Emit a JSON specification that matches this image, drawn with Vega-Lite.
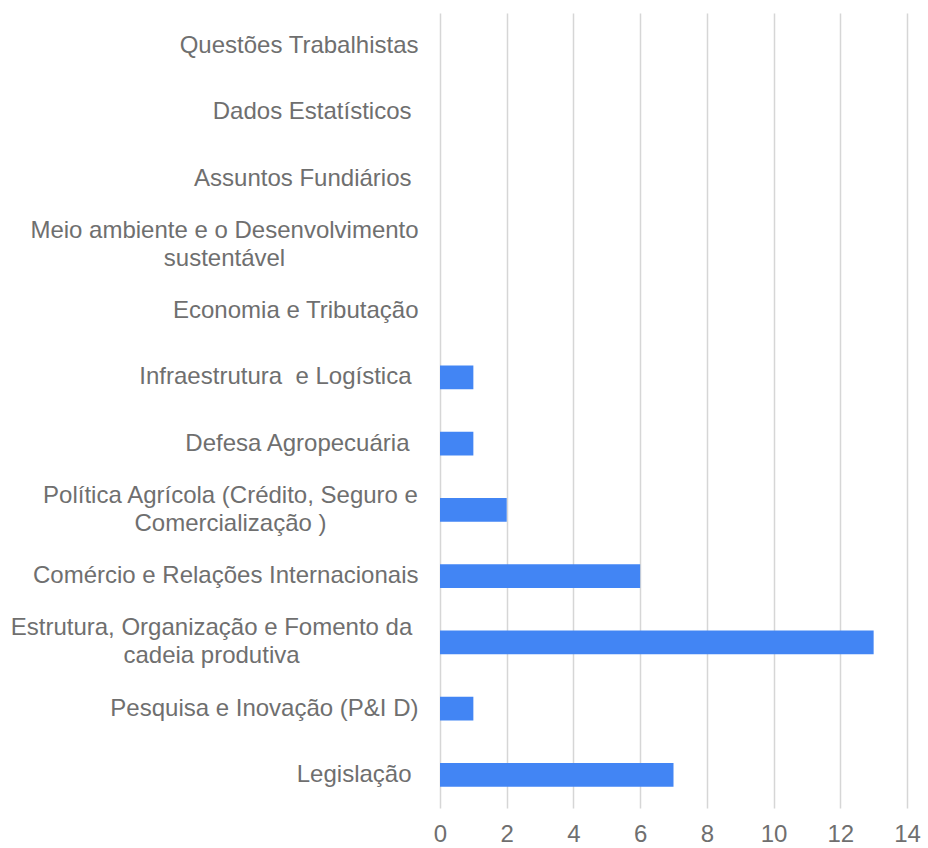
{
  "$schema": "https://vega.github.io/schema/vega-lite/v6.json",
  "autosize": "none",
  "width": 467,
  "height": 795,
  "padding": {"left": 440, "top": 13, "right": 21, "bottom": 40},
  "background": "white",
  "config": {"view": {"stroke": null}},
  "data": {
    "values": [
      {"cat": "Questões Trabalhistas", "n": 0},
      {"cat": "Dados Estatísticos", "n": 0},
      {"cat": "Assuntos Fundiários", "n": 0},
      {"cat": "Meio ambiente e o Desenvolvimento\nsustentável", "n": 0},
      {"cat": "Economia e Tributação", "n": 0},
      {"cat": "Infraestrutura \u00a0e Logística", "n": 1},
      {"cat": "Defesa Agropecuária", "n": 1},
      {"cat": "Política Agrícola (Crédito, Seguro e\nComercialização )", "n": 2},
      {"cat": "Comércio e Relações Internacionais", "n": 6},
      {"cat": "Estrutura, Organização e Fomento da\ncadeia produtiva", "n": 13},
      {"cat": "Pesquisa e Inovação (P&I D)", "n": 1},
      {"cat": "Legislação", "n": 7}
    ]
  },
  "mark": {"type": "bar", "color": "#4285F4"},
  "encoding": {
    "y": {
      "field": "cat",
      "type": "nominal",
      "sort": null,
      "scale": {"paddingInner": 0.638, "paddingOuter": 0.319},
      "axis": {
        "title": null,
        "domain": false,
        "ticks": false,
        "tickSize": 0,
        "grid": false,
        "labelFont": "Liberation Sans",
        "labelFontSize": 24,
        "labelColor": "#6f6f6f",
        "labelLimit": 0,
        "labelLineHeight": 28,
        "labelExpr": "split(datum.label, '\\n')",
        "labelAlign": {"condition": {"test": "indexof(datum.value, '\\n') >= 0", "value": "center"}, "value": "right"},
        "labelOffset": {"condition": {"test": "indexof(datum.value, '\\n') >= 0", "value": -14}, "value": 0},
        "labelPadding": {
          "condition": [
            {"test": "indexof(datum.value, 'Meio') == 0", "value": 216},
            {"test": "indexof(datum.value, 'Política') == 0", "value": 210},
            {"test": "indexof(datum.value, 'Estrutura') == 0", "value": 229},
            {"test": "indexof(datum.value, 'Defesa') == 0", "value": 31},
            {"test": "indexof(datum.value, 'Dados') == 0 || indexof(datum.value, 'Assuntos') == 0 || indexof(datum.value, 'Infraestrutura') == 0 || indexof(datum.value, 'Legisla') == 0", "value": 29}
          ],
          "value": 22
        }
      }
    },
    "x": {
      "field": "n",
      "type": "quantitative",
      "scale": {"domain": [0, 14], "nice": false},
      "axis": {
        "title": null,
        "domain": false,
        "ticks": false,
        "tickSize": 0,
        "values": [0, 2, 4, 6, 8, 10, 12, 14],
        "grid": true,
        "gridColor": "#d6d6d6",
        "gridWidth": 1.5,
        "labelFlush": false,
        "labelFont": "Liberation Sans",
        "labelFontSize": 24,
        "labelColor": "#6f6f6f",
        "labelPadding": 14
      }
    }
  }
}
